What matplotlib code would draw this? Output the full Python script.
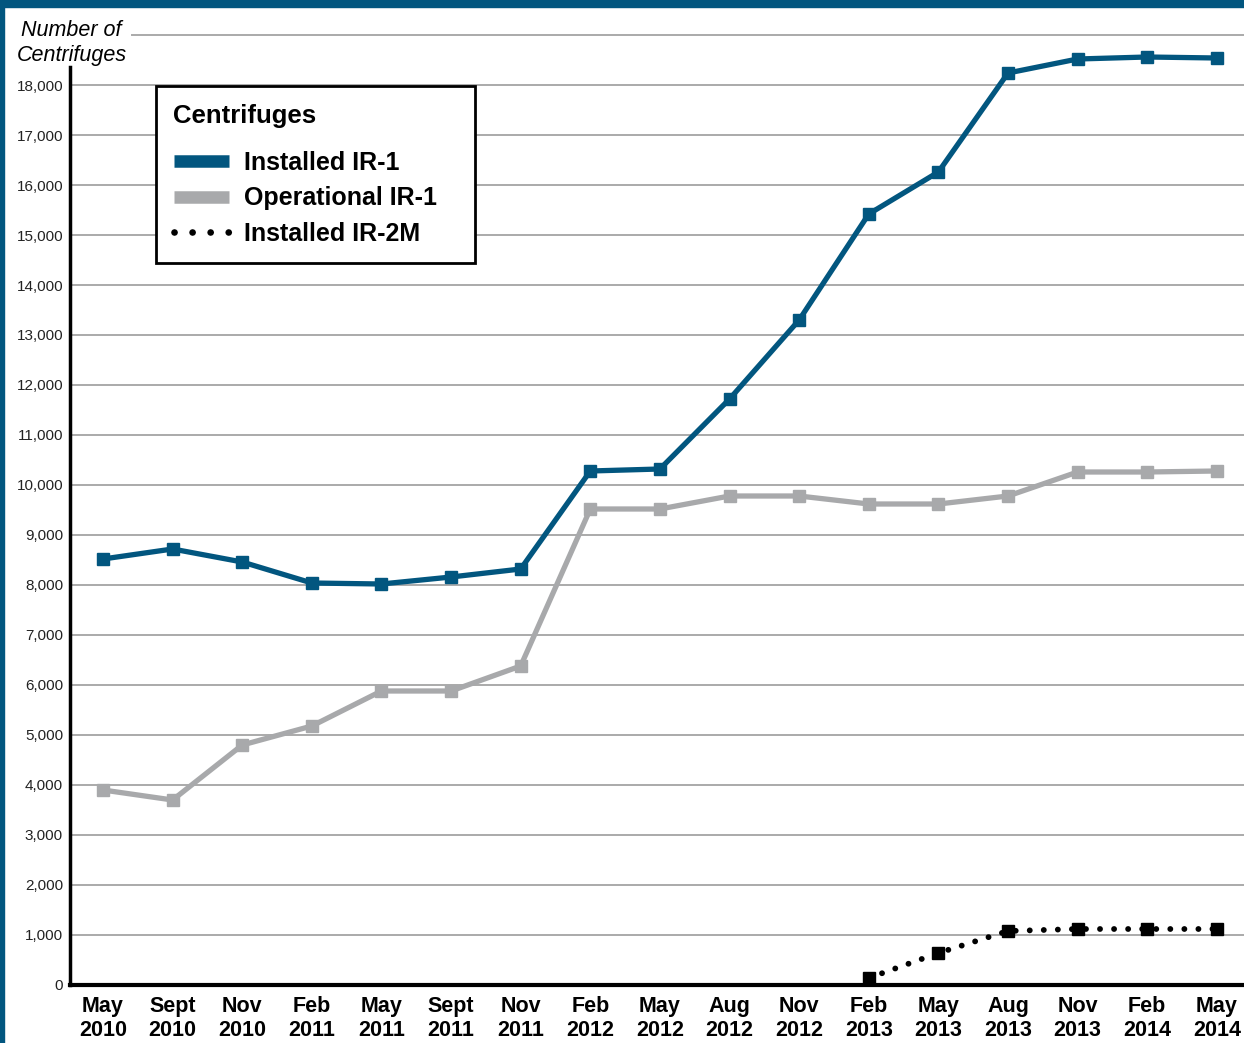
import matplotlib
matplotlib.use("Agg")
import matplotlib.pyplot as plt
from matplotlib.lines import Line2D
from matplotlib.patches import Rectangle

plt.rcParams['font.family'] = ['Liberation Sans', 'DejaVu Sans']

# Data
dates = ["May\n2010", "Sept\n2010", "Nov\n2010", "Feb\n2011", "May\n2011", "Sept\n2011",
         "Nov\n2011", "Feb\n2012", "May\n2012", "Aug\n2012", "Nov\n2012", "Feb\n2013",
         "May\n2013", "Aug\n2013", "Nov\n2013", "Feb\n2014", "May\n2014"]
installed_ir1 = [8520, 8720, 8460, 8040, 8020, 8160, 8320, 10280, 10320, 11720,
                 13300, 15420, 16260, 18240, 18520, 18560, 18540]
operational_ir1 = [3900, 3700, 4800, 5180, 5880, 5880, 6380, 9520, 9520, 9780,
                   9780, 9620, 9620, 9780, 10260, 10260, 10280]
ir2m_start = 11  # Feb 2013
installed_ir2m = [140, 640, 1080, 1120, 1120, 1120]
yticks = list(range(0, 19000, 1000))

blue = "#02567f"
grey = "#a8a9ab"

fig = plt.figure(figsize=(12.44, 10.43), dpi=100)
ax = fig.add_axes([70 / 1244, 58 / 1043, 1 - 70 / 1244, 950 / 1043])

x = list(range(len(dates)))
ax.plot(x, operational_ir1, color=grey, lw=3.8, marker="s", ms=8.5, zorder=3)
ax.plot(x, installed_ir1, color=blue, lw=3.8, marker="s", ms=8.5, zorder=4)
x2 = x[ir2m_start:]
ax.plot(x2, installed_ir2m, color="black", lw=4.2, ls=(0, (0.01, 2.4)),
        dash_capstyle="round", zorder=3)
ax.plot(x2, installed_ir2m, color="black", lw=0, marker="s", ms=8.5, zorder=4)

ax.set_xlim(-0.474, 16.39)
ax.set_ylim(0, 19000)
ax.set_xticks(x)
ax.set_xticklabels(dates, fontsize=15.5, fontweight="bold", linespacing=1.2)
ax.set_yticks(yticks)
ax.set_yticklabels([f"{v:,}" for v in yticks], fontsize=11, color="#222222")
ax.tick_params(length=0)
ax.tick_params(axis="y", pad=5)
ax.tick_params(axis="x", pad=8)

for v in yticks[1:]:
    ax.axhline(v, color="#aaaaaa", lw=1.4, zorder=1)
ax.axhline(19000, xmin=62 / 1174, color="#aaaaaa", lw=1.4, zorder=1, clip_on=False)

for s in ["top", "right"]:
    ax.spines[s].set_visible(False)
ax.spines["left"].set_linewidth(2.5)
ax.spines["left"].set_bounds(0, 18360)
ax.spines["bottom"].set_linewidth(3)
ax.spines["bottom"].set_zorder(5)

fig.text(21 / 1244, 1 - 36 / 1043, "Number of", fontsize=15.5, style="italic")
fig.text(17 / 1244, 1 - 61 / 1043, "Centrifuges", fontsize=15.5, style="italic")

handles = [
    Line2D([], [], color=blue, lw=9, solid_capstyle="butt"),
    Line2D([], [], color=grey, lw=9, solid_capstyle="butt"),
    Line2D([], [], color="black", lw=4.8, ls=(0, (0.01, 2.7)), dash_capstyle="round"),
]
leg = ax.legend(handles, ["Installed IR-1", "Operational IR-1   ", "Installed IR-2M"],
                title="Centrifuges", loc="upper left",
                bbox_to_anchor=(86 / 1174, 899 / 950), borderaxespad=0,
                alignment="left",
                prop={"size": 18, "weight": "bold"},
                title_fontproperties={"size": 18.5, "weight": "bold"},
                handlelength=2.2, handletextpad=0.6, labelspacing=0.45,
                borderpad=0.7, fancybox=False, framealpha=1)
leg.get_frame().set_edgecolor("black")
leg.get_frame().set_linewidth(2)
leg._legend_box.sep = 17
leg.set_zorder(6)

# dark blue frame at top and left
fig.patches.append(Rectangle((0, 1 - 7 / 1043), 1, 7 / 1043, transform=fig.transFigure,
                             color=blue, zorder=10))
fig.patches.append(Rectangle((0, 0), 4 / 1244, 1, transform=fig.transFigure,
                             color=blue, zorder=10))

fig.savefig("out.png", dpi=100)
